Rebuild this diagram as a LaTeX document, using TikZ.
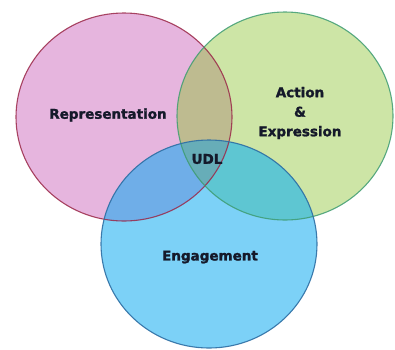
\documentclass[tikz,border=0pt]{standalone}
\usepackage{fontspec}
\setmainfont{DejaVu Sans}[BoldFeatures={FakeBold=1.6}]
\usepackage{tikz}

\definecolor{pinkfill}{HTML}{E6B5DE}
\definecolor{greenfill}{HTML}{CDE5A6}
\definecolor{bluefill}{HTML}{7CD1F7}
\definecolor{rgmix}{HTML}{BEBB90}
\definecolor{rbmix}{HTML}{6FAEE8}
\definecolor{gbmix}{HTML}{5EC6D2}
\definecolor{allmix}{HTML}{67ADB8}
\definecolor{pinkline}{HTML}{9A2848}
\definecolor{greenline}{HTML}{3E9C72}
\definecolor{blueline}{HTML}{2D6EA3}
\definecolor{lbltext}{HTML}{15192A}

\begin{document}
\begin{tikzpicture}[x=1pt, y=-1pt, line width=1.1pt,
    venn/.style={x radius=108, y radius=104},
    lbl/.style={font=\bfseries\fontsize{13.5}{19.5}\selectfont, text=lbltext, align=center}]
        \useasboundingbox (0,0) rectangle (395,349);
        \coordinate (r) at (124,117);
        \coordinate (a) at (285,116);
        \coordinate (e) at (209,244);
        % the three sets
        \fill[pinkfill]  (r) ellipse[venn];
        \fill[greenfill] (a) ellipse[venn];
        \fill[bluefill]  (e) ellipse[venn];
        % overlaps
        \begin{scope}
          \clip (a) ellipse[venn];
          \fill[gbmix] (e) ellipse[venn];
        \end{scope}
        \begin{scope}
          \clip (r) ellipse[venn];
          \fill[rgmix] (a) ellipse[venn];
          \fill[rbmix] (e) ellipse[venn];
          \clip (a) ellipse[venn];
          \fill[allmix] (e) ellipse[venn];
        \end{scope}
        % outlines
        \draw[pinkline, draw opacity=.85]  (r) ellipse[venn];
        \draw[greenline, draw opacity=.85] (a) ellipse[venn];
        \draw[blueline, draw opacity=.9]   (e) ellipse[venn];
        % labels
        \node[lbl] (R) at (108,115) {Representation};
        \node[lbl] (A) at (300,113) {Action\\\&\\Expression};
        \node[lbl] (U) at (207,159) {UDL};
        \node[lbl] (E) at (210,257) {Engagement};
      \end{tikzpicture}
\end{document}
